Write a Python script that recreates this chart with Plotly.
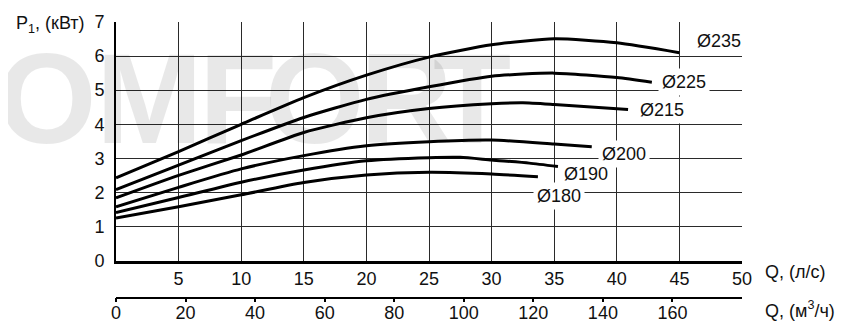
import plotly.graph_objects as go

# ---- data (Q in l/s, P1 in kW) ----
q235 = [0, 5, 10, 15, 20, 25, 30, 35, 40, 45]
p235 = [2.43, 3.2, 4.0, 4.78, 5.44, 5.97, 6.33, 6.51, 6.39, 6.1]
q225 = [0, 5, 10, 15, 20, 25, 30, 35, 40, 42.8]
p225 = [2.08, 2.8, 3.52, 4.2, 4.73, 5.1, 5.41, 5.5, 5.37, 5.23]
q215 = [0, 5, 10, 15, 20, 25, 30, 32.5, 35, 40.9]
p215 = [1.84, 2.5, 3.1, 3.76, 4.19, 4.46, 4.6, 4.63, 4.58, 4.43]
q200 = [0, 5, 10, 15, 20, 25, 30, 35, 38]
p200 = [1.58, 2.15, 2.69, 3.08, 3.37, 3.49, 3.54, 3.42, 3.34]
q190 = [0, 5, 10, 15, 20, 25, 27.5, 30, 33, 35.3]
p190 = [1.41, 1.85, 2.3, 2.66, 2.93, 3.02, 3.03, 2.95, 2.86, 2.76]
q180 = [0, 5, 10, 15, 20, 25, 30, 33.7]
p180 = [1.25, 1.58, 1.93, 2.29, 2.51, 2.59, 2.54, 2.46]

curve_names = ["Ø235", "Ø225", "Ø215", "Ø200", "Ø190", "Ø180"]
label_q = [48.2, 45.4, 43.6, 40.6, 37.5, 35.4]
label_p = [6.43, 5.23, 4.41, 3.14, 2.55, 1.91]

x_ticks_ls = [5, 10, 15, 20, 25, 30, 35, 40, 45, 50]
x_ticks_m3h = [0, 20, 40, 60, 80, 100, 120, 140, 160]
y_ticks = [0, 1, 2, 3, 4, 5, 6, 7]

watermark_letters = ["O", "M", "F", "O", "R", "T"]
watermark_x = [-0.111, 0.054, 0.195, 0.318, 0.464, 0.569]

FONT = "Liberation Sans, Arial, Helvetica, sans-serif"
GRID = "#2a2a2a"

fig = go.Figure()

# watermark (faint, black-on-black keeps grid lines dark)
for ch, wx in zip(watermark_letters, watermark_x):
    fig.add_annotation(text="<b>" + ch + "</b>", xref="paper", yref="paper",
                       x=wx, y=0.737, xanchor="center", yanchor="middle",
                       showarrow=False,
                       font=dict(family=FONT, size=128,
                                 color="rgba(0,0,0,0.09)"))

series = [(q235, p235), (q225, p225), (q215, p215),
          (q200, p200), (q190, p190), (q180, p180)]
for (qx, py), nm in zip(series, curve_names):
    fig.add_trace(go.Scatter(x=qx, y=py, mode="lines", name=nm,
                             line=dict(color="black", width=3,
                                       shape="spline", smoothing=0.6),
                             hoverinfo="skip", showlegend=False))

# dummy trace to carry the m3/h axis
fig.add_trace(go.Scatter(x=x_ticks_m3h, y=[None] * len(x_ticks_m3h),
                         xaxis="x2", yaxis="y", mode="lines",
                         hoverinfo="skip", showlegend=False))

for nm, lq, lp in zip(curve_names, label_q, label_p):
    fig.add_annotation(text=nm, x=lq, y=lp, xref="x", yref="y",
                       showarrow=False, bgcolor="white", borderpad=3,
                       font=dict(family=FONT, size=18, color="#111"))

# axis titles
fig.add_annotation(text="P<sub>1</sub>, (кВт)", xref="paper", yref="paper",
                   x=-0.047, y=0.99, xanchor="right", yanchor="middle",
                   showarrow=False, font=dict(family=FONT, size=18, color="#111"))
fig.add_annotation(text="Q, (л/с)", xref="paper", yref="paper",
                   x=1.0335, y=0.141, xanchor="left", yanchor="middle",
                   showarrow=False, font=dict(family=FONT, size=18, color="#111"))
fig.add_annotation(text="Q, (м<sup>3</sup>/ч)", xref="paper", yref="paper",
                   x=1.0335, y=0.012, xanchor="left", yanchor="middle",
                   showarrow=False, font=dict(family=FONT, size=18, color="#111"))

fig.update_layout(
    width=842, height=315,
    margin=dict(l=108, r=108, t=14, b=10),
    paper_bgcolor="white", plot_bgcolor="rgba(0,0,0,0)",
    font=dict(family=FONT, size=18, color="#111"),
    showlegend=False,
    xaxis=dict(range=[0, 50], tickvals=x_ticks_ls, ticks="",
               showgrid=True, gridcolor=GRID, gridwidth=1,
               showline=True, linecolor="black", linewidth=2.5,
               zeroline=False, anchor="y", automargin=False,
               tickfont=dict(size=18)),
    xaxis2=dict(range=[0, 180], tickvals=x_ticks_m3h, overlaying="x",
                anchor="free", position=0.0526, side="bottom",
                showgrid=False, zeroline=False, showline=True,
                linecolor="black", linewidth=1.5, ticks="outside",
                ticklen=4, tickwidth=1.5, tickcolor="black",
                ticklabelstandoff=-5,
                automargin=False, tickfont=dict(size=18)),
    yaxis=dict(range=[0, 7], tickvals=y_ticks, domain=[0.18, 1],
               showgrid=True, gridcolor=GRID, gridwidth=1,
               showline=True, linecolor="black", linewidth=2,
               zeroline=False, ticks="", ticklabelstandoff=6,
               automargin=False, tickfont=dict(size=18)),
)

fig.write_html("out.html")
